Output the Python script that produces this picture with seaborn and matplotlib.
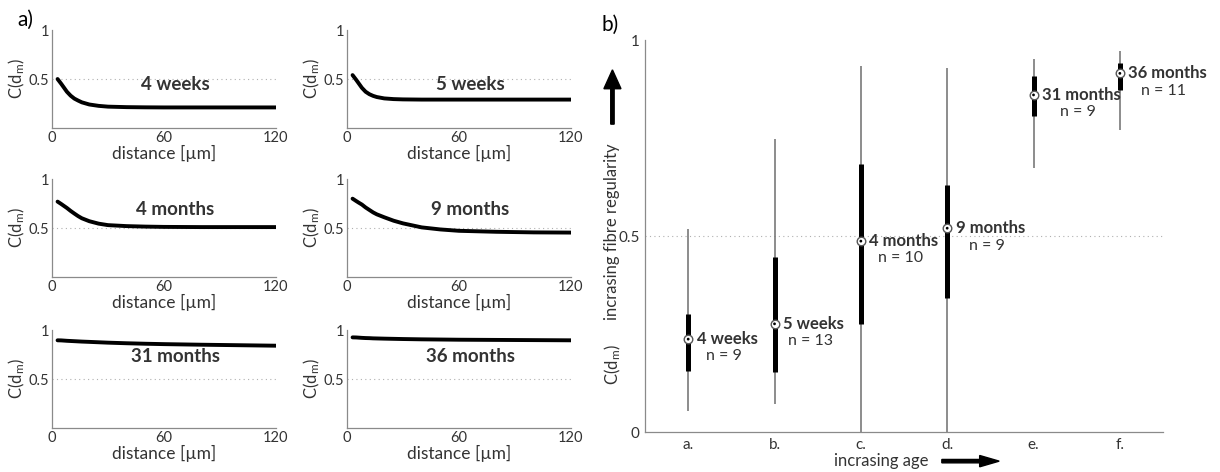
import matplotlib
matplotlib.use("Agg")
import matplotlib.pyplot as plt
import seaborn as sns
import pandas as pd

# ---- a) C(d_m) against distance, one curve per age (read off the figure)
distance = [3, 5, 6.5, 8, 10, 12, 14, 16, 20, 25, 30, 40, 50, 60, 80, 100, 120]
c_4weeks = [0.50, 0.45, 0.41, 0.37, 0.33, 0.30, 0.28, 0.262, 0.24, 0.226, 0.218, 0.213, 0.211, 0.21, 0.21, 0.21, 0.21]
c_5weeks = [0.54, 0.49, 0.45, 0.41, 0.37, 0.345, 0.328, 0.316, 0.302, 0.295, 0.292, 0.29, 0.29, 0.29, 0.29, 0.29, 0.29]
c_4months = [0.77, 0.745, 0.725, 0.705, 0.675, 0.648, 0.622, 0.60, 0.57, 0.545, 0.53, 0.52, 0.515, 0.512, 0.51, 0.51, 0.51]
c_9months = [0.80, 0.775, 0.757, 0.74, 0.71, 0.685, 0.66, 0.64, 0.61, 0.575, 0.548, 0.507, 0.486, 0.472, 0.462, 0.456, 0.454]
c_31months = [0.895, 0.894, 0.892, 0.89, 0.888, 0.886, 0.884, 0.882, 0.879, 0.875, 0.871, 0.865, 0.86, 0.856, 0.85, 0.845, 0.84]
c_36months = [0.925, 0.924, 0.922, 0.92, 0.918, 0.917, 0.915, 0.914, 0.912, 0.91, 0.908, 0.905, 0.903, 0.901, 0.899, 0.897, 0.895]
curve_names = ["4 weeks", "5 weeks", "4 months", "9 months", "31 months", "36 months"]

# ---- b) box summaries per age group
groups = ["a.", "b.", "c.", "d.", "e.", "f."]
ages = ["4 weeks", "5 weeks", "4 months", "9 months", "31 months", "36 months"]
n_samples = [9, 13, 10, 9, 9, 11]
whisker_lo = [0.054, 0.071, 0.0, 0.0, 0.673, 0.77]
box_lo = [0.156, 0.153, 0.276, 0.343, 0.806, 0.872]
medians = [0.237, 0.276, 0.487, 0.520, 0.860, 0.915]
box_hi = [0.30, 0.447, 0.684, 0.630, 0.908, 0.941]
whisker_hi = [0.518, 0.747, 0.934, 0.929, 0.951, 0.972]

sns.set_style("white")
plt.rcParams["font.family"] = ["Lato", "DejaVu Sans"]
plt.rcParams["mathtext.fontset"] = "custom"
plt.rcParams["mathtext.rm"] = "Lato"
plt.rcParams["mathtext.it"] = "Lato:italic"

TXT = "#333333"
SPINE = "#8a8a8a"

fig = plt.figure(figsize=(12.2, 4.72), dpi=100)

curves = [c_4weeks, c_5weeks, c_4months, c_9months, c_31months, c_36months]
lefts = [0.0426, 0.2844]
bottoms = [0.7288, 0.413, 0.0932]
label_y = [0.44, 0.44, 0.686, 0.686, 0.734, 0.734]

for i, (vals, name) in enumerate(zip(curves, curve_names)):
    ax = fig.add_axes([lefts[i % 2], bottoms[i // 2], 0.1836, 0.2076])
    df = pd.DataFrame({"distance": distance, "C": vals})
    ax.plot([0, 120], [0.5, 0.5], color="#b0b0b0", lw=0.8, ls=(0, (1, 3)))
    sns.lineplot(data=df, x="distance", y="C", ax=ax, color="black", lw=2.8)
    ax.set_xlim(0, 120)
    ax.set_ylim(0, 1)
    ax.set_xticks([0, 60, 120])
    ax.set_yticks([0.5, 1])
    ax.set_yticklabels(["0.5", "1"])
    ax.tick_params(direction="in", length=3, color=SPINE, labelcolor=TXT,
                   labelsize=10.5, pad=2)
    for s in ["top", "right"]:
        ax.spines[s].set_visible(False)
    for s in ["left", "bottom"]:
        ax.spines[s].set_color(SPINE)
        ax.spines[s].set_linewidth(0.9)
    ax.set_xlabel("distance [µm]", fontsize=12.5, color=TXT, labelpad=0)
    ax.set_ylabel(r"C(d$_{\mathrm{m}}$)", fontsize=12, color=TXT, labelpad=1)
    ax.text(66, label_y[i], name, ha="center", va="center", fontsize=13.5,
            fontweight="bold", color=TXT)

fig.text(0.021, 0.958, "a)", fontsize=15, color="black", ha="center", va="center")

# ---- panel b
axb = fig.add_axes([0.5287, 0.0847, 0.4246, 0.8305])
pos = list(range(1, len(groups) + 1))
axb.plot([0.5, 6.5], [0.5, 0.5], color="#b0b0b0", lw=0.8, ls=(0, (1, 3)))
axb.vlines(pos, whisker_lo, whisker_hi, color="#6e6e6e", lw=1.1)
axb.vlines(pos, box_lo, box_hi, color="black", lw=3.6)
med_df = pd.DataFrame({"pos": pos, "median": medians})
sns.scatterplot(data=med_df, x="pos", y="median", ax=axb, s=38, color="white",
                edgecolor="#555555", linewidth=1.0, zorder=5)
sns.scatterplot(data=med_df, x="pos", y="median", ax=axb, s=4, color="black",
                edgecolor="none", zorder=6)

for p, age, n, m in zip(pos, ages, n_samples, medians):
    t = axb.text(p + 0.1, m, age, ha="left", va="center", fontsize=12,
                 fontweight="bold", color=TXT)
    axb.annotate(f"n = {n}", xy=(0.45, 0.5), xycoords=t, xytext=(0, -12.5),
                 textcoords="offset points", ha="center", va="center",
                 fontsize=11.5, color=TXT)

axb.set_xlim(0.5, 6.5)
axb.set_ylim(0, 1)
axb.set_xticks(pos)
axb.set_xticklabels(groups)
axb.set_yticks([0, 0.5, 1])
axb.set_yticklabels(["0", "0.5", "1"])
axb.tick_params(direction="in", length=3, color=SPINE, labelcolor=TXT,
                labelsize=11, pad=4)
axb.set_xlabel("")
axb.set_ylabel("")
for s in ["top", "right"]:
    axb.spines[s].set_visible(False)
for s in ["left", "bottom"]:
    axb.spines[s].set_color(SPINE)
    axb.spines[s].set_linewidth(0.9)

fig.text(0.5, 0.947, "b)", fontsize=15, color="black", ha="center", va="center")
fig.text(0.502, 0.51, "incrasing fibre regularity", rotation=90, fontsize=12,
         color=TXT, ha="center", va="center")
fig.text(0.502, 0.227, r"C(d$_{\mathrm{m}}$)", rotation=90, fontsize=12,
         color=TXT, ha="center", va="center")
fig.text(0.722, 0.023, "incrasing age", fontsize=12, color=TXT,
         ha="center", va="center")
fig.patches.append(matplotlib.patches.FancyArrow(
    0.502, 0.737, 0, 0.115, width=0.0028, head_width=0.014, head_length=0.04,
    length_includes_head=True, color="black", transform=fig.transFigure, figure=fig))
fig.patches.append(matplotlib.patches.FancyArrow(
    0.772, 0.023, 0.047, 0, width=0.0072, head_width=0.024, head_length=0.016,
    length_includes_head=True, color="black", transform=fig.transFigure, figure=fig))

fig.savefig("out.png", dpi=100, facecolor="white")
